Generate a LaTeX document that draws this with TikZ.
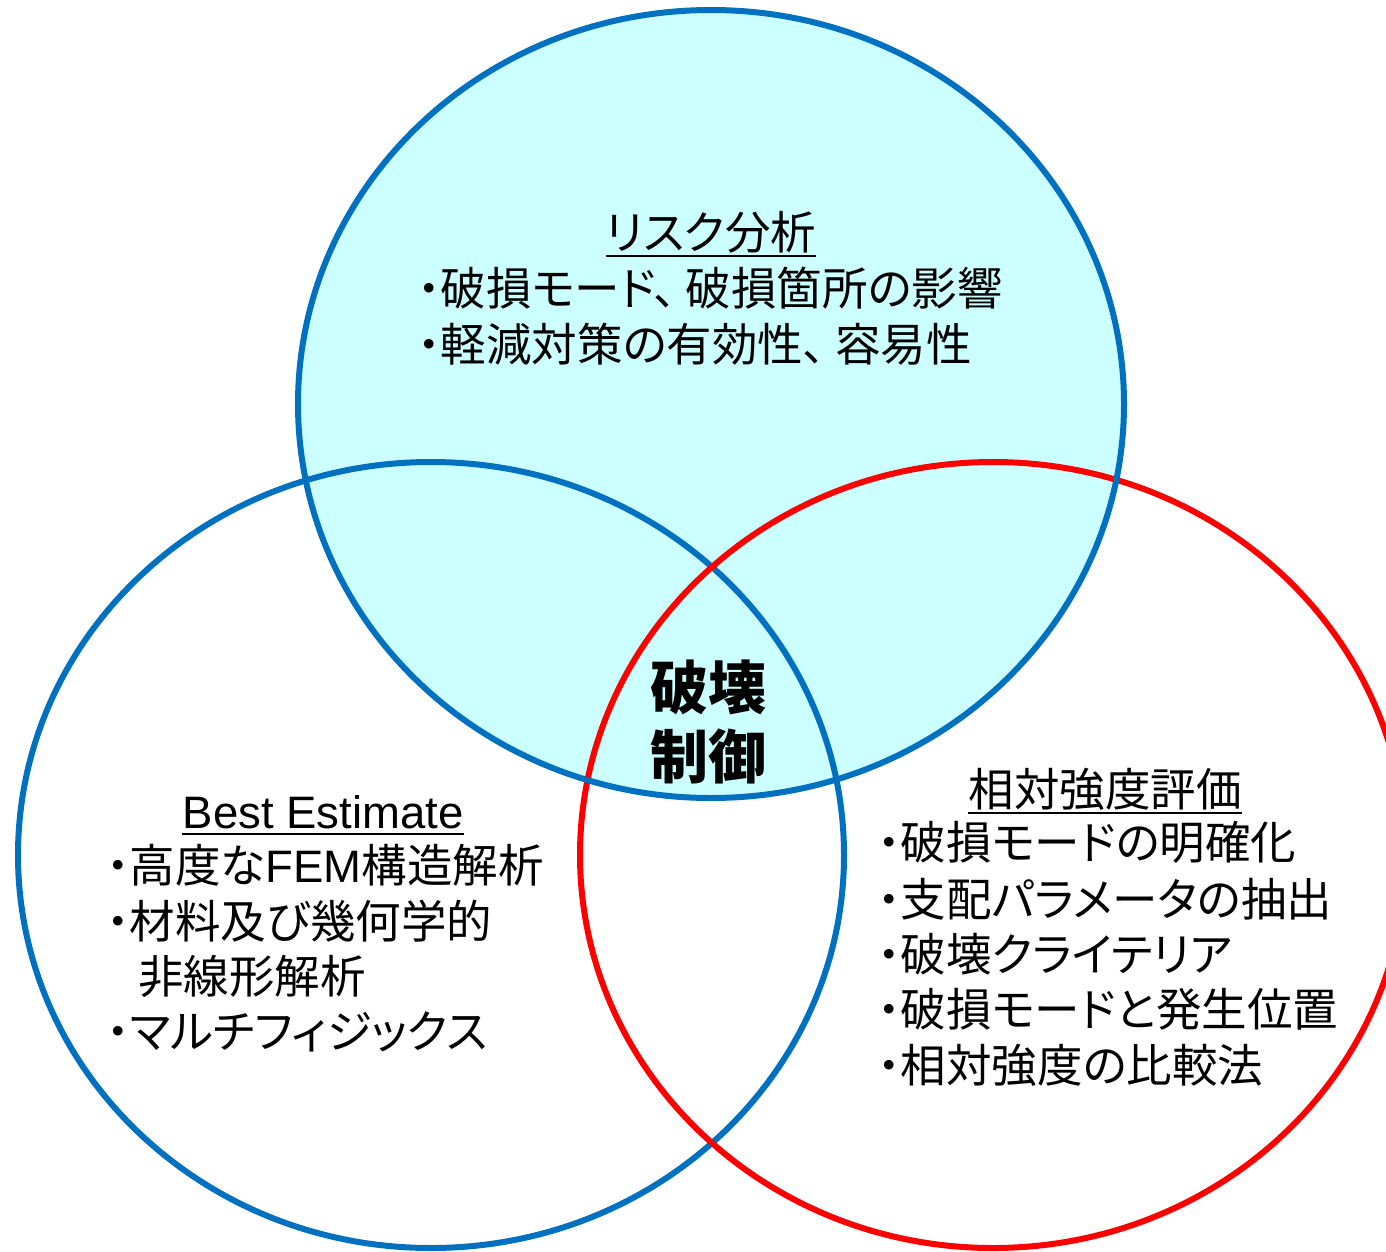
\documentclass[tikz,border=0pt]{standalone}
\usepackage{fontspec}
\newfontfamily\jp[RawFeature=+palt]{Noto Sans CJK JP}
\newfontfamily\lat{Liberation Sans}
\newcommand{\tten}{、\kern9pt\relax}
\definecolor{cblue}{HTML}{0070C0}
\definecolor{cred}{HTML}{FF0000}
\definecolor{cfill}{HTML}{CCFFFF}
\begin{document}
\begin{tikzpicture}[x=1pt,y=-1pt,
  ring/.style={line width=6pt},
  body/.style={font=\jp\fontsize{45.5}{56}\selectfont, inner sep=0pt, anchor=base west},
  ttl/.style={font=\jp\fontsize{45.5}{56}\selectfont, inner sep=0pt, anchor=base},
  big/.style={font=\jp\bfseries\fontsize{58}{70}\selectfont, inner sep=0pt, anchor=base},
  uline/.style={line width=2.5pt}]
\useasboundingbox (0,0) rectangle (1386,1251);
% circles
\fill[cfill] (711,404) ellipse [x radius=413pt, y radius=394pt];
\draw[ring,cblue] (431,855) ellipse [x radius=413pt, y radius=393pt];
\draw[ring,cred] (993,855) ellipse [x radius=413pt, y radius=393pt];
\draw[ring,cblue] (711,404) ellipse [x radius=413pt, y radius=394pt];
% top
\node[ttl] (rt) at (711,249) {リスク分析};
\draw[uline] ([yshift=-7pt]rt.base west) -- ([yshift=-7pt]rt.base east);
\node[body] (r1) at (418,305) {・破損モード\tten 破損箇所の影響};
\node[body] (r2) at (418,361) {・軽減対策の有効性\tten 容易性};
% center
\node[big] (c1) at (708,709) {破壊};
\node[big] (c2) at (708,778) {制御};
% left
\node[ttl,font=\lat\fontsize{45.5}{56}\selectfont] (lt) at (323,828) {Best Estimate};
\draw[uline] ([yshift=-6pt]lt.base west) -- ([yshift=-6pt]lt.base east);
\node[body] (l1) at (107,882) {・高度な{\lat FEM}構造解析};
\node[body] (l2) at (107,938) {・材料及び幾何学的};
\node[body] (l3) at (138,993) {非線形解析};
\node[body] (l4) at (107,1048) {・マルチフィジックス};
% right
\node[ttl] (gt) at (1105,806) {相対強度評価};
\draw[uline] ([yshift=-7pt]gt.base west) -- ([yshift=-7pt]gt.base east);
\node[body] (g1) at (878,859) {・破損モードの明確化};
\node[body] (g2) at (878,916) {・支配パラメータの抽出};
\node[body] (g3) at (878,971) {・破壊クライテリア};
\node[body] (g4) at (878,1026) {・破損モードと発生位置};
\node[body] (g5) at (878,1082) {・相対強度の比較法};
\end{tikzpicture}
\end{document}
